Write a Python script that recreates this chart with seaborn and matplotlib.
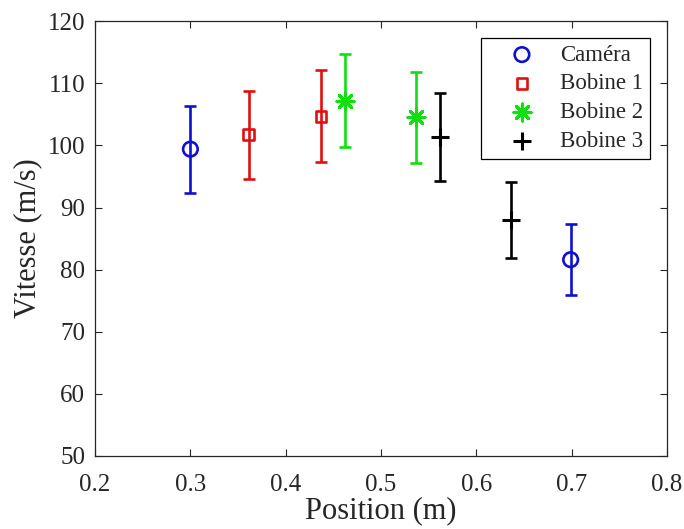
import pandas as pd
import matplotlib.pyplot as plt
import seaborn as sns

# values
series = ["Caméra", "Bobine 1", "Bobine 2", "Bobine 3"]
pos_camera = [0.300, 0.699]
v_camera = [99.4, 81.6]
err_camera = [7.0, 5.7]
pos_b1 = [0.361, 0.437]
v_b1 = [101.7, 104.7]
err_b1 = [7.1, 7.4]
pos_b2 = [0.462, 0.537]
v_b2 = [107.2, 104.5]
err_b2 = [7.5, 7.3]
pos_b3 = [0.562, 0.636]
v_b3 = [101.3, 88.0]
err_b3 = [7.1, 6.1]

colors = ["#1010d0", "#e01010", "#10e010", "black"]
markers = ["o", "s", (8, 2, 0), "+"]
sizes = [110, 60, 150, 170]

df = pd.DataFrame({
    "Position": pos_camera + pos_b1 + pos_b2 + pos_b3,
    "Vitesse": v_camera + v_b1 + v_b2 + v_b3,
    "err": err_camera + err_b1 + err_b2 + err_b3,
    "Serie": [s for s in series for _ in range(2)],
})

sns.set_style("ticks")
plt.rcParams["font.family"] = ["Liberation Serif", "DejaVu Serif"]

fig = plt.figure(figsize=(6.84, 5.29), dpi=100)
ax = fig.add_axes([0.139, 0.138, 0.836, 0.822])

for name, c, m, s in zip(series, colors, markers, sizes):
    d = df[df["Serie"] == name]
    ax.errorbar(d["Position"], d["Vitesse"], yerr=d["err"], fmt="none",
                ecolor=c, elinewidth=1.9, capsize=4.3, capthick=1.9, zorder=2)
    mk = plt.matplotlib.markers.MarkerStyle(m)
    if mk.is_filled():
        sns.scatterplot(data=d, x="Position", y="Vitesse", marker=m, s=s,
                        facecolors="none", edgecolor=c, linewidth=1.9,
                        label=name, ax=ax, zorder=3)
    else:
        sns.scatterplot(data=d, x="Position", y="Vitesse", marker=m, s=s,
                        color=c, linewidth=2.2, label=name, ax=ax, zorder=3)

ax.set_xlim(0.2, 0.8)
ax.set_ylim(50, 120)
ax.set_xticks([0.2, 0.3, 0.4, 0.5, 0.6, 0.7, 0.8])
ax.set_xticklabels(["0.2", "0.3", "0.4", "0.5", "0.6", "0.7", "0.8"])
ax.set_yticks(range(50, 121, 10))
ax.tick_params(direction="in", length=5, width=0.8, labelsize=18,
               top=True, right=True, colors="#262626", labelcolor="#262626")
ax.tick_params(axis="y", pad=7)
ax.tick_params(axis="x", pad=13)
for sp in ax.spines.values():
    sp.set_color("#262626")
    sp.set_linewidth(0.9)
ax.set_xlabel("Position (m)", fontsize=22, color="#262626", labelpad=0)
ax.set_ylabel("Vitesse (m/s)", fontsize=22, color="#262626", labelpad=4)

leg = ax.legend(loc="upper right", bbox_to_anchor=(0.97, 0.962), fontsize=16.5,
                frameon=True, fancybox=False, edgecolor="black",
                handletextpad=0.15, borderpad=0.3, labelspacing=0.34,
                handlelength=3.0, borderaxespad=0.0)
leg.get_frame().set_linewidth(0.9)
leg.get_frame().set_alpha(1)

fig.savefig("out.png", dpi=100)
